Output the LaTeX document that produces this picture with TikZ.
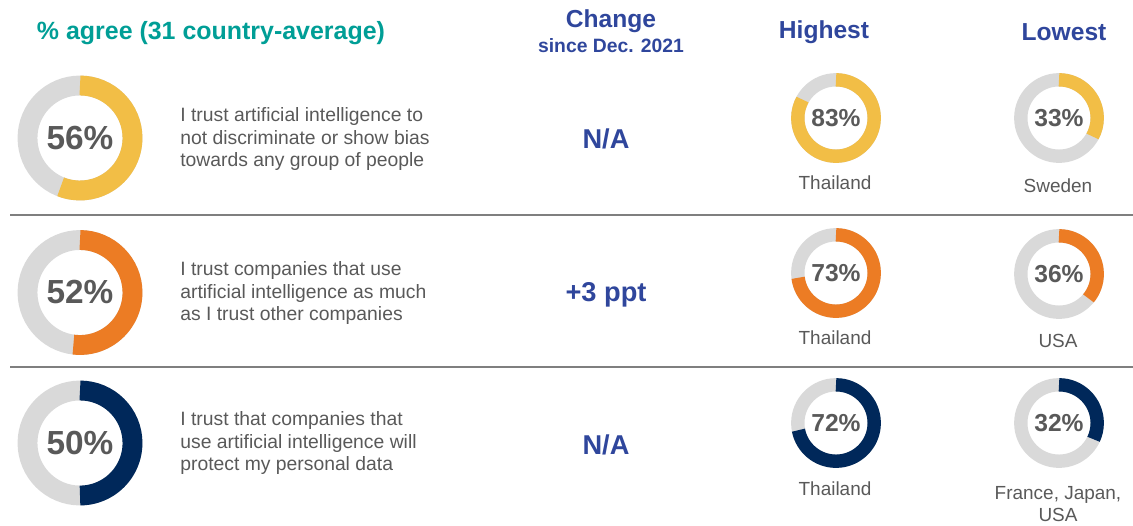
\documentclass[tikz,border=0pt]{standalone}
\usepackage{fontspec}
\setmainfont{Liberation Sans}
\usetikzlibrary{positioning}

\definecolor{headteal}{HTML}{009E96}
\definecolor{headblue}{HTML}{2F469C}
\definecolor{txtgray}{HTML}{595959}
\definecolor{ringgray}{HTML}{D9D9D9}
\definecolor{ringyellow}{HTML}{F2BE46}
\definecolor{ringorange}{HTML}{EC7C24}
\definecolor{ringnavy}{HTML}{00285A}
\definecolor{sepgray}{HTML}{7F7F7F}

\tikzset{
  bigpct/.style={text=txtgray,font=\fontsize{19}{19}\selectfont\bfseries},
  smallpct/.style={text=txtgray,font=\fontsize{14}{14}\selectfont\bfseries},
  statement/.style={anchor=west,align=left,text=txtgray,inner sep=0pt,
    font=\fontsize{11}{12.75}\selectfont},
  country/.style={align=center,text=txtgray,inner sep=0pt,
    font=\fontsize{10.8}{13}\selectfont},
  change/.style={text=headblue,font=\fontsize{15.5}{15.5}\selectfont\bfseries},
  colhead/.style={text=headblue,align=center,inner sep=0pt},
  sepline/.style={sepgray,line width=0.8pt}
}

% name, centre, mid radius, ring width, percent, colour, text style
\newcommand{\ringchart}[7]{%
  \draw[line width=#4,ringgray] (#2) circle[radius=#3];
  \draw[line width=#4,#6] (#2) ++(90:#3) arc[start angle=90,delta angle=-3.6*#5,radius=#3];
  \node[#7] (#1) at (#2) {#5\%};
}

\begin{document}
\begin{tikzpicture}[x=0.02cm,y=0.02cm]
        \useasboundingbox (0,0) rectangle (1133,-525);
        %% Headers
        \node[text=headteal,font=\fontsize{14.2}{14.2}\selectfont\bfseries] (HA) at (211,-33) {\% agree (31 country-average)};
        \node[colhead,font=\fontsize{14}{14}\selectfont\bfseries] (HC) at (611,-21) {Change};
        \node[colhead,font=\fontsize{11}{11}\selectfont\bfseries] (HS) at (611,-46) {since Dec. 2021};
        \node[colhead,font=\fontsize{14}{14}\selectfont\bfseries] (HH) at (824,-32) {Highest};
        \node[colhead,font=\fontsize{14}{14}\selectfont\bfseries] (HL) at (1064,-32) {Lowest};
        %% Row 1
        \ringchart{A1}{80,-138}{52.5}{11.3pt}{56}{ringyellow}{bigpct}
        \node[statement] (S1) at (180,-139) {I trust artificial intelligence to\\not discriminate or show bias\\towards any group of people};
        \node[change] (C1) at (606,-139) {N/A};
        \ringchart{H1}{836,-118}{38.2}{7.6pt}{83}{ringyellow}{smallpct}
        \node[country] (T1) at (835,-183) {Thailand};
        \ringchart{L1}{1059,-118}{38.2}{7.6pt}{33}{ringyellow}{smallpct}
        \node[country] (W1) at (1058,-186) {Sweden};
        \draw[sepline] (10,-215) -- (1133,-215);
        %% Row 2
        \ringchart{A2}{80,-292.5}{52.5}{11.3pt}{52}{ringorange}{bigpct}
        \node[statement] (S2) at (180,-293) {I trust companies that use\\artificial intelligence as much\\as I trust other companies};
        \node[change] (C2) at (606,-295) {+3 ppt};
        \ringchart{H2}{836,-273}{38.2}{7.6pt}{73}{ringorange}{smallpct}
        \node[country] (T2) at (835,-338) {Thailand};
        \ringchart{L2}{1059,-274}{38.2}{7.6pt}{36}{ringorange}{smallpct}
        \node[country] (W2) at (1058,-341) {USA};
        \draw[sepline] (10,-367) -- (1133,-367);
        %% Row 3
        \ringchart{A3}{80,-443}{52.5}{11.3pt}{50}{ringnavy}{bigpct}
        \node[statement] (S3) at (180,-443) {I trust that companies that\\use artificial intelligence will\\protect my personal data};
        \node[change] (C3) at (606,-445) {N/A};
        \ringchart{H3}{836,-423}{38.2}{7.6pt}{72}{ringnavy}{smallpct}
        \node[country] (T3) at (835,-489) {Thailand};
        \ringchart{L3}{1059,-423}{38.2}{7.6pt}{32}{ringnavy}{smallpct}
        \node[country] (W3) at (1058,-504) {France, Japan,\\USA};
\end{tikzpicture}
\end{document}
